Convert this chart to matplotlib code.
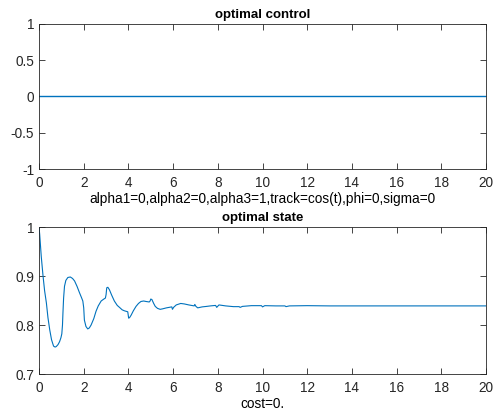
import numpy as np
import matplotlib
matplotlib.use('Agg')
import matplotlib.pyplot as plt

# 数据
t_ctrl = [0, 20]
u_ctrl = [0, 0]

t_state = [0, 0.03, 0.1, 0.18, 0.25, 0.33, 0.4, 0.48, 0.56, 0.65, 0.72, 0.77, 0.85,
           0.92, 0.98, 1.02, 1.05, 1.07, 1.1, 1.14, 1.2, 1.29, 1.4, 1.5, 1.59, 1.7,
           1.81, 1.9, 1.96, 2.0, 2.03, 2.1, 2.18, 2.25, 2.33, 2.45, 2.55, 2.65, 2.78,
           2.9, 2.97, 3.0, 3.03, 3.08, 3.15, 3.25, 3.37, 3.5, 3.6, 3.72, 3.82, 3.97,
           4.01, 4.05, 4.12, 4.22, 4.34, 4.45, 4.56, 4.68, 4.79, 4.93, 4.97, 5.0,
           5.05, 5.13, 5.2, 5.3, 5.42, 5.53, 5.7, 5.82, 5.94, 5.97, 6.02, 6.14, 6.34,
           6.5, 6.7, 6.94, 6.97, 7.02, 7.1, 7.3, 7.5, 7.67, 7.9, 7.95, 8.05, 8.35,
           8.7, 8.95, 9.0, 9.1, 9.5, 9.95, 10.0, 10.1, 10.6, 11.0, 11.05, 11.2, 12.0,
           13.0, 14.0, 16.0, 18.0, 20.0]
x_state = [1.0, 0.985, 0.94, 0.9, 0.87, 0.845, 0.815, 0.79, 0.77, 0.757, 0.755, 0.756, 0.76,
           0.766, 0.774, 0.782, 0.8, 0.824, 0.855, 0.879, 0.891, 0.897, 0.898, 0.895, 0.89, 0.879,
           0.866, 0.856, 0.849, 0.835, 0.81, 0.797, 0.792, 0.794, 0.8, 0.813, 0.828, 0.839, 0.849,
           0.853, 0.855, 0.862, 0.876, 0.877, 0.872, 0.861, 0.849, 0.84, 0.836, 0.831, 0.829, 0.827,
           0.814, 0.815, 0.82, 0.829, 0.838, 0.844, 0.848, 0.849, 0.848, 0.847, 0.849, 0.853,
           0.852, 0.844, 0.838, 0.834, 0.832, 0.833, 0.835, 0.836, 0.837, 0.832, 0.836, 0.841, 0.844,
           0.843, 0.841, 0.839, 0.842, 0.838, 0.835, 0.837, 0.838, 0.839, 0.840, 0.836, 0.841, 0.839,
           0.8375, 0.8375, 0.836, 0.838, 0.8395, 0.8395, 0.837, 0.8395, 0.839, 0.839, 0.8375, 0.839, 0.8395,
           0.839, 0.839, 0.839, 0.839, 0.839]

line_color = '#0072BD'
axis_color = '#262626'

plt.rcParams['font.family'] = ['Liberation Sans', 'DejaVu Sans']

fig = plt.figure(figsize=(4.97, 4.12), dpi=100)
ax1 = fig.add_axes([0.0785, 0.5898, 0.8995, 0.352])
ax2 = fig.add_axes([0.0785, 0.0922, 0.8995, 0.3568])


def style(ax):
    for s in ax.spines.values():
        s.set_color(axis_color)
        s.set_linewidth(0.6)
    ax.tick_params(direction='in', top=True, right=True, length=4, width=0.6,
                   colors=axis_color, labelsize=9.8)
    ax.tick_params(axis='x', pad=5)
    ax.tick_params(axis='y', pad=3.5)
    ax.set_xlim(0, 20)
    ax.set_xticks(np.arange(0, 21, 2))


ax1.plot(t_ctrl, u_ctrl, color=line_color, lw=1.0)
style(ax1)
ax1.set_ylim(-1, 1)
ax1.set_yticks([-1, -0.5, 0, 0.5, 1])
ax1.set_yticklabels(['-1', '-0.5', '0', '0.5', '1'])
ax1.set_title('optimal control', fontsize=9.5, fontweight='bold', pad=4.5)
ax1.set_xlabel('alpha1=0,alpha2=0,alpha3=1,track=cos(t),phi=0,sigma=0', fontsize=9.8, labelpad=1.5)

ax2.plot(t_state, x_state, color=line_color, lw=0.8)
style(ax2)
ax2.set_ylim(0.7, 1)
ax2.set_yticks([0.7, 0.8, 0.9, 1])
ax2.set_yticklabels(['0.7', '0.8', '0.9', '1'])
ax2.set_title('optimal state', fontsize=9.5, fontweight='bold', pad=4)
ax2.set_xlabel('cost=0.', fontsize=9.8, labelpad=1.5)

fig.savefig('out.png', dpi=100)
